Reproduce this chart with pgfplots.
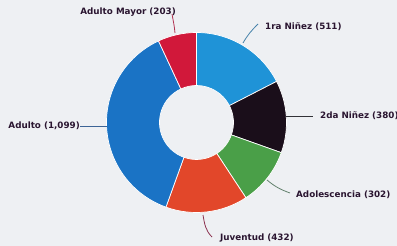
\documentclass[border=0pt]{standalone}
\usepackage{pgfplots}
\pgfplotsset{compat=1.18}
\usepackage{fontspec}
\setmainfont{DejaVu Sans}
\definecolor{bg}{HTML}{EEF0F3}
\definecolor{cA}{HTML}{1F93D7}
\definecolor{cB}{HTML}{1A0E1A}
\definecolor{cC}{HTML}{4A9F48}
\definecolor{cD}{HTML}{E2472A}
\definecolor{cE}{HTML}{1A73C5}
\definecolor{cF}{HTML}{D1183A}
\definecolor{txt}{HTML}{2A1530}
\definecolor{lA}{RGB}{70,130,170}
\definecolor{lB}{RGB}{50,50,55}
\definecolor{lC}{RGB}{100,130,110}
\definecolor{lD}{RGB}{140,50,80}
\definecolor{lE}{RGB}{60,100,150}
\definecolor{lF}{RGB}{176,48,80}
\newcommand\slice[3]{\fill[#3,draw=white,line width=0.7bp] ([shift={(#1:90bp)}]c) arc[start angle=#1,end angle=#2,radius=90bp] -- ([shift={(#2:37bp)}]c) arc[start angle=#2,end angle=#1,radius=37bp] -- cycle;}
\begin{document}
\begin{tikzpicture}
\def\vA{511}\def\vB{380}\def\vC{302}\def\vD{432}\def\vE{1099}\def\vF{203}
\pgfmathsetmacro\tot{\vA+\vB+\vC+\vD+\vE+\vF}
\pgfmathsetmacro\aA{90}
\pgfmathsetmacro\aB{\aA-\vA/\tot*360}
\pgfmathsetmacro\aC{\aB-\vB/\tot*360}
\pgfmathsetmacro\aD{\aC-\vC/\tot*360}
\pgfmathsetmacro\aE{\aD-\vD/\tot*360}
\pgfmathsetmacro\aF{\aE-\vE/\tot*360}
\pgfmathsetmacro\aG{\aF-\vF/\tot*360}
\begin{axis}[x=1bp,y=1bp,xmin=0,xmax=397,ymin=0,ymax=246,hide axis,clip=false,
  anchor=south west,at={(0,0)}]
\fill[bg] (axis cs:0,0) rectangle (axis cs:397,246);
\coordinate (c) at (axis cs:196.5,123.5);
\slice{\aA}{\aB}{cA}
\slice{\aB}{\aC}{cB}
\slice{\aC}{\aD}{cC}
\slice{\aD}{\aE}{cD}
\slice{\aE}{\aF}{cE}
\slice{\aF}{\aG}{cF}
% leader lines
\draw[line width=0.8bp,lF] (axis cs:175,213) to[out=95,in=-80] (axis cs:172,232);
\draw[line width=0.8bp,lA] (axis cs:243,203) to[out=60,in=225] (axis cs:258,222);
\draw[line width=0.8bp,lB] (axis cs:286,130) -- (axis cs:313,130);
\draw[line width=0.8bp,lC] (axis cs:267,66) to[out=-40,in=160] (axis cs:290,53);
\draw[line width=0.8bp,lD] (axis cs:203,31) to[out=-80,in=135] (axis cs:212,9);
\draw[line width=0.8bp,lE] (axis cs:107,120) -- (axis cs:80,120);
% labels
\tikzset{lbl/.style={inner sep=0pt,font=\fontsize{8.8}{10}\selectfont\bfseries,text=txt}}
\node[lbl,anchor=east] at (axis cs:176,234) {Adulto Mayor (203)};
\node[lbl,anchor=west] at (axis cs:265,219) {1ra Niñez (511)};
\node[lbl,anchor=west] at (axis cs:320,130) {2da Niñez (380)};
\node[lbl,anchor=west] at (axis cs:296,51) {Adolescencia (302)};
\node[lbl,anchor=west] at (axis cs:220,8) {Juventud (432)};
\node[lbl,anchor=east] at (axis cs:80,120) {Adulto (1,099)};
\end{axis}
\pgfresetboundingbox
\path (0,0) rectangle (397bp,246bp);
\end{tikzpicture}
\end{document}
